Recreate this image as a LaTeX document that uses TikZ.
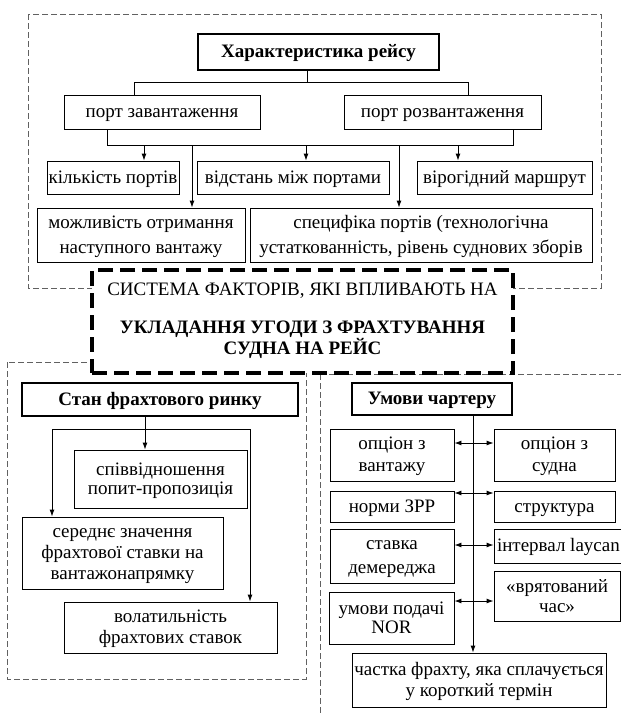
\documentclass[tikz,border=0pt]{standalone}
\usepackage{fontspec}
\setmainfont{Liberation Serif}
\usetikzlibrary{arrows.meta}
\newcommand{\zs}{\rule[-4pt]{0pt}{20pt}}
\newcommand{\cl}[1]{\makebox[0pt]{\zs#1}}
\lineskiplimit=-40pt\relax
\begin{document}
\begin{tikzpicture}[x=1pt,y=-1pt,
  bs/.style={font=\fontsize{19}{#1}\selectfont},
  bx/.style={draw, line width=0.9pt, fill=white, inner sep=0pt, align=center, bs=21},
  tbx/.style={draw, line width=2.6pt, fill=white, inner sep=0pt, align=center,
    font=\fontsize{19}{21}\selectfont\bfseries},
  ln/.style={line width=0.9pt},
  arr/.style={ln, -{Latex[length=7pt,width=5pt]}},
  dbl/.style={ln, {Latex[length=7pt,width=5pt]}-{Latex[length=7pt,width=5pt]}},
  grp/.style={draw=black!62, line width=0.8pt, dash pattern=on 6pt off 3pt},
  core/.style={draw, fill=white, line width=3.2pt, dash pattern=on 15pt off 7pt,
    align=center, inner sep=0pt, font=\fontsize{19}{21}\selectfont}
]
\useasboundingbox (0,0) rectangle (621,715);
\clip (0,0) rectangle (621,715);

% group frames
\draw[grp] (28,14) rectangle (601,288);
\draw[grp] (7,362) rectangle (306,679);
\draw[grp] (320,374) rectangle (650,740);

% central node
\node[core, minimum width=421pt, minimum height=103pt] (core) at (302.5,321.5)
  {\cl{СИСТЕМА ФАКТОРІВ, ЯКІ ВПЛИВАЮТЬ НА}\\[17pt]
   \cl{\bfseries УКЛАДАННЯ УГОДИ З ФРАХТУВАННЯ}\\
   \makebox[0pt]{\rule[-10pt]{0pt}{20pt}\bfseries СУДНА НА РЕЙС}};

% top group
\node[tbx, minimum width=241pt, minimum height=36pt] (t1) at (318.5,52) {\cl{Характеристика рейсу}};
\node[bx, minimum width=196pt, minimum height=34pt] (p1) at (162,112) {\cl{порт завантаження}};
\node[bx, minimum width=197pt, minimum height=34pt] (p2) at (442.5,112) {\cl{порт розвантаження}};
\node[bx, minimum width=132pt, minimum height=33pt] (kil) at (113,177.5) {\cl{кількість портів}};
\node[bx, minimum width=192pt, minimum height=33pt] (vid) at (293,177.5) {\cl{відстань між портами}};
\node[bx, minimum width=175pt, minimum height=33pt] (vir) at (504.5,177.5) {\cl{вірогідний маршрут}};
\node[bx, bs=25, minimum width=208pt, minimum height=54pt] (mozh) at (141,235) {\cl{можливість отримання}\\\cl{наступного вантажу}};
\node[bx, bs=25, minimum width=342pt, minimum height=54pt] (spec) at (421,235) {\cl{специфіка портів (технологічна}\\\cl{устаткованність, рівень суднових зборів}};

\coordinate (j1) at (307,82);
\coordinate (h1l) at (134,82);
\coordinate (h1r) at (468,82);
\coordinate (h2l) at (107.5,145);
\coordinate (h2r) at (513,145);
\coordinate (a1) at (144,145);
\coordinate (a2) at (306,145);
\coordinate (a3) at (458,145);
\coordinate (a4) at (192,145);
\coordinate (a5) at (399,145);
\draw[ln] (t1.south -| j1) -- (j1);
\draw[ln] (p1.north -| h1l) -- (h1l) -- (h1r) -- (p2.north -| h1r);
\draw[ln] (p1.south -| h2l) -- (h2l) -- (h2r) -- (p2.south -| h2r);
\draw[arr] (a1) -- (kil.north -| a1);
\draw[arr] (a2) -- (vid.north -| a2);
\draw[arr] (a3) -- (vir.north -| a3);
\draw[arr] (a4) -- (mozh.north -| a4);
\draw[arr] (a5) -- (spec.north -| a5);

% bottom-left group
\node[tbx, minimum width=276pt, minimum height=33pt] (stan) at (160,399.5) {\cl{Стан фрахтового ринку}};
\node[bx, bs=19, minimum width=173pt, minimum height=58pt] (spiv) at (160.5,479) {\cl{співвідношення}\\\cl{попит-пропозиція}};
\node[bx, minimum width=201pt, minimum height=72pt] (sered) at (122.5,553) {\cl{середнє значення}\\\cl{фрахтової ставки на}\\\cl{вантажонапрямку}};
\node[bx, minimum width=213pt, minimum height=51pt] (vol) at (170.5,627.5) {\cl{волатильність}\\\cl{фрахтових ставок}};
\coordinate (b0) at (145,429);
\coordinate (bl) at (52,429);
\coordinate (br) at (250,429);
\draw[arr] (stan.south -| b0) -- (spiv.north -| b0);
\draw[arr] (br) -- (bl) -- (sered.north -| bl);
\draw[arr] (br) -- (vol.north -| br);

% bottom-right group
\node[tbx, minimum width=160pt, minimum height=32pt] (um) at (432,399) {\cl{Умови чартеру}};
\node[bx, bs=22, minimum width=124pt, minimum height=52pt] (ov) at (392,455) {\cl{опціон з}\\\cl{вантажу}};
\node[bx, bs=22, minimum width=121pt, minimum height=52pt] (os) at (554.5,455) {\cl{опціон з}\\\cl{судна}};
\node[bx, minimum width=124pt, minimum height=31pt] (nz) at (392,506.5) {\cl{норми ЗРР}};
\node[bx, minimum width=121pt, minimum height=31pt] (st) at (554.5,506.5) {\cl{структура}};
\node[bx, bs=24, minimum width=124pt, minimum height=54pt] (sd) at (392,556) {\cl{ставка}\\\cl{демереджа}};
\node[bx, minimum width=146pt, minimum height=34pt] (il) at (567,546) {\makebox[140pt][l]{\zs інтервал laycan}};
\node[bx, bs=20, minimum width=126pt, minimum height=50pt] (vch) at (557,596) {\cl{«врятований}\\\cl{час»}};
\node[bx, bs=19, minimum width=125pt, minimum height=52pt] (nor) at (391.5,618) {\cl{умови подачі}\\\cl{NOR}};
\node[bx, minimum width=254pt, minimum height=54pt] (ch) at (479,680) {\cl{частка фрахту, яка сплачується}\\\cl{у короткий термін}};
\coordinate (sp) at (473,660);
\draw[arr] (um.south -| sp) -- (ch.north -| sp);
\coordinate (r1) at (473,443);
\coordinate (r2) at (473,493);
\coordinate (r3) at (473,545);
\coordinate (r4) at (473,601);
\draw[dbl] (ov.east |- r1) -- (os.west |- r1);
\draw[dbl] (nz.east |- r2) -- (st.west |- r2);
\draw[dbl] (sd.east |- r3) -- (il.west |- r3);
\draw[dbl] (nor.east |- r4) -- (vch.west |- r4);
\end{tikzpicture}
\end{document}
